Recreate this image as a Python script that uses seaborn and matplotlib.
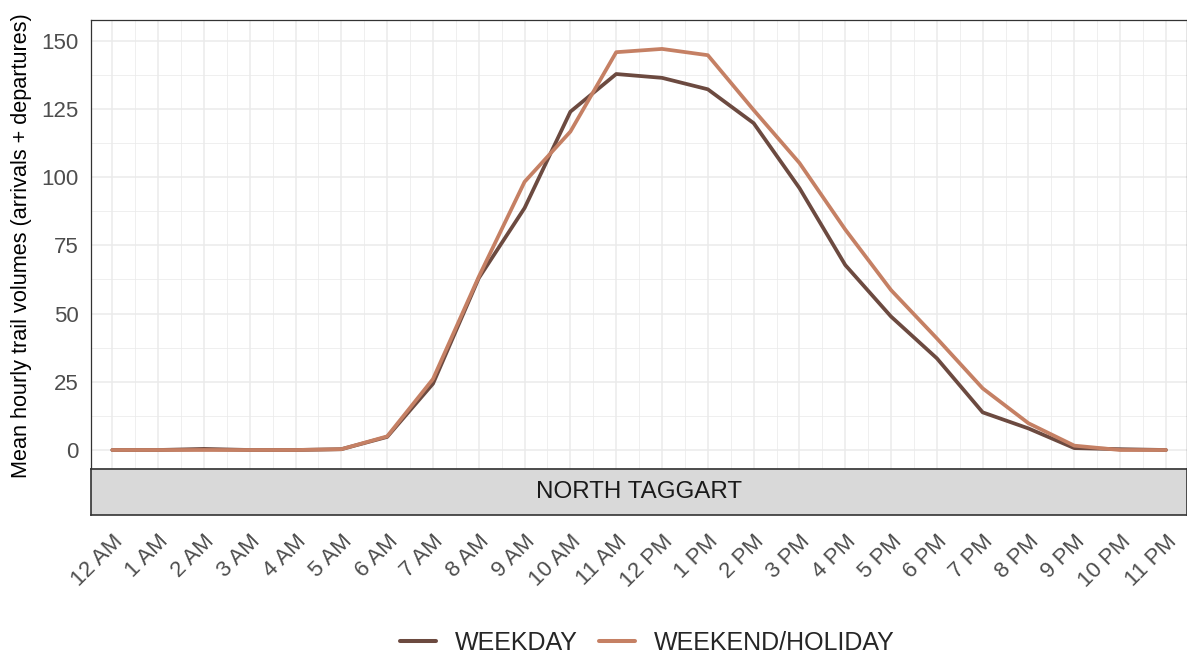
import numpy as np
import pandas as pd
import matplotlib
matplotlib.use("Agg")
import matplotlib.pyplot as plt
from matplotlib.ticker import MultipleLocator
import seaborn as sns

# Hour-of-day categories
hours = ["12 AM", "1 AM", "2 AM", "3 AM", "4 AM", "5 AM", "6 AM", "7 AM",
         "8 AM", "9 AM", "10 AM", "11 AM", "12 PM", "1 PM", "2 PM", "3 PM",
         "4 PM", "5 PM", "6 PM", "7 PM", "8 PM", "9 PM", "10 PM", "11 PM"]

# Mean hourly trail volumes (arrivals + departures)
weekday = [0.0, 0.0, 0.4, 0.0, 0.0, 0.3, 4.8, 24.3, 63.0, 88.7, 124.0, 137.8,
           136.4, 132.2, 119.8, 96.0, 67.8, 48.9, 33.6, 13.8, 7.9, 0.7, 0.3, 0.0]
weekend = [0.0, 0.0, 0.0, 0.0, 0.0, 0.3, 5.0, 26.0, 63.5, 98.3, 116.7, 145.8,
           147.0, 144.7, 124.6, 105.2, 80.8, 58.6, 40.9, 22.6, 9.8, 1.6, 0.0, 0.0]

day_types = ["WEEKDAY", "WEEKEND/HOLIDAY"]
site = "NORTH TAGGART"
y_title = "Mean hourly trail volumes (arrivals + departures)"

df = pd.DataFrame({
    "hour": list(range(len(hours))) * 2,
    "volume": weekday + weekend,
    "day_type": [day_types[0]] * len(hours) + [day_types[1]] * len(hours),
})

sns.set_theme(style="white")
plt.rcParams["font.family"] = ["Liberation Sans", "DejaVu Sans"]

W, H = 1187, 657
fig = plt.figure(figsize=(W / 100, H / 100), dpi=100)

def fx(px):
    return px / W

def fy(py):
    return 1 - py / H

left_px, right_px = 91, 1187
top_px, panel_bot_px, strip_bot_px = 20, 469, 515

ax = fig.add_axes([fx(left_px), fy(panel_bot_px), fx(right_px - left_px),
                   (panel_bot_px - top_px) / H])
sax = fig.add_axes([fx(left_px), fy(strip_bot_px), fx(right_px - left_px),
                    (strip_bot_px - panel_bot_px) / H], sharex=ax)

palette = {day_types[0]: "#6c4a40", day_types[1]: "#c58064"}
sns.lineplot(data=df, x="hour", y="volume", hue="day_type", palette=palette,
             linewidth=2.7, ax=ax, legend=False, sort=False)

ax.set_xlim(-0.465, 23.46)
ax.set_ylim(-6.96, 157.6)

# Grid: major + minor, light grey
ax.xaxis.set_major_locator(MultipleLocator(1))
ax.xaxis.set_minor_locator(MultipleLocator(0.5))
ax.yaxis.set_major_locator(MultipleLocator(25))
ax.yaxis.set_minor_locator(MultipleLocator(12.5))
ax.grid(which="major", color="#ebebeb", linewidth=1.1)
ax.grid(which="minor", color="#ebebeb", linewidth=0.55)
ax.set_axisbelow(True)

ax.tick_params(axis="y", which="major", length=5, width=0.8, color="#333333",
               labelsize=16, labelcolor="#4d4d4d", pad=4)
ax.tick_params(axis="y", which="minor", length=0)
ax.tick_params(axis="x", which="both", length=0, labelbottom=False)
ax.set_xlabel("")
ax.set_ylabel(y_title, fontsize=15.6, color="black")
ax.yaxis.set_label_coords((32 - left_px) / (right_px - left_px), 0.497)
for s in ax.spines.values():
    s.set_color("#333333")
    s.set_linewidth(0.9)

# Facet strip underneath the panel
sax.set_facecolor("#d9d9d9")
sax.set_ylim(0, 1)
sax.set_yticks([])
for s in sax.spines.values():
    s.set_color("#333333")
    s.set_linewidth(1.2)
sax.text(0.5, 0.5, site, transform=sax.transAxes, ha="center", va="center",
         fontsize=17.4, color="#1a1a1a")
sax.set_xticks(range(len(hours)))
sax.set_xticklabels(hours, rotation=45, ha="right", va="top",
                    rotation_mode="anchor")
sax.tick_params(axis="x", which="major", length=5, width=0.8, color="#333333",
                labelsize=16, labelcolor="#4d4d4d", pad=6.5)
sax.tick_params(axis="x", which="minor", length=0)
sax.grid(False)

# Legend at the bottom
handles = [plt.Line2D([], [], color=palette[d], linewidth=2.9) for d in day_types]
fig.legend(handles, day_types, loc="center", bbox_to_anchor=(fx(647), fy(643)),
           ncol=2, frameon=False, fontsize=18, handlelength=1.45,
           handletextpad=0.75, columnspacing=0.85)

fig.savefig("out.png", dpi=100)
